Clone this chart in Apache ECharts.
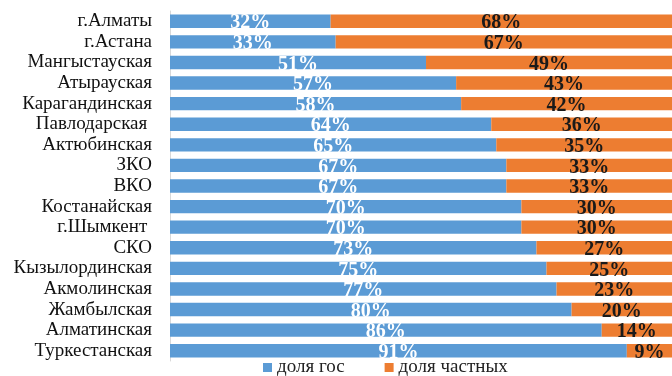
<!DOCTYPE html>
<html>
<head>
<meta charset="utf-8">
<script src="https://cdn.jsdelivr.net/npm/echarts@6/dist/echarts.min.js"></script>
<style>
  html, body { margin: 0; padding: 0; background: #fff; }
  #chart { width: 672px; height: 376px; }
</style>
</head>
<body>
<div id="chart"></div>
<script>
// Regions, top to bottom
const regions = [
  'г.Алматы', 'г.Астана', 'Мангыстауская', 'Атырауская', 'Карагандинская',
  'Павлодарская ', 'Актюбинская', 'ЗКО', 'ВКО', 'Костанайская', 'г.Шымкент ',
  'СКО', 'Кызылординская', 'Акмолинская', 'Жамбылская', 'Алматинская', 'Туркестанская'
];
// Share of state-owned (%)
const stateShare = [32, 33, 51, 57, 58, 64, 65, 67, 67, 70, 70, 73, 75, 77, 80, 86, 91];
// Share of private (%)
const privateShare = [68, 67, 49, 43, 42, 36, 35, 33, 33, 30, 30, 27, 25, 23, 20, 14, 9];

const seriesNames = ['доля гос', 'доля частных'];
const serif = '"Liberation Serif", "Times New Roman", serif';

const chart = echarts.init(document.getElementById('chart'));
chart.setOption({
  animation: false,
  grid: { left: 170, top: 11, width: 506, height: 350, containLabel: false },
  xAxis: {
    type: 'value', min: 0, max: 100,
    show: false
  },
  yAxis: {
    type: 'category',
    data: regions,
    inverse: true,
    axisLine: { show: true, lineStyle: { color: '#d9d9d9', width: 1 } },
    axisTick: { show: false },
    axisLabel: { interval: 0, color: '#111', fontFamily: serif, fontSize: 19, margin: 18 }
  },
  legend: {
    data: seriesNames,
    top: 358,
    left: 263,
    padding: 0,
    itemWidth: 9,
    itemHeight: 9,
    itemGap: 40,
    icon: 'rect',
    textStyle: { color: '#222', fontFamily: serif, fontSize: 19 }
  },
  series: [
    {
      name: seriesNames[0],
      type: 'bar',
      stack: 'total',
      data: stateShare,
      barCategoryGap: '35%',
      itemStyle: { color: '#5B9BD5' },
      label: {
        show: true, position: 'inside', formatter: '{c}%', offset: [0, 2],
        color: '#fff', fontFamily: serif, fontWeight: 'bold', fontSize: 20
      }
    },
    {
      name: seriesNames[1],
      type: 'bar',
      stack: 'total',
      data: privateShare,
      itemStyle: { color: '#ED7D31' },
      label: {
        show: true, position: 'inside', formatter: '{c}%', offset: [0, 2],
        color: '#1a1a1a', fontFamily: serif, fontWeight: 'bold', fontSize: 20
      }
    }
  ]
});
</script>
</body>
</html>
